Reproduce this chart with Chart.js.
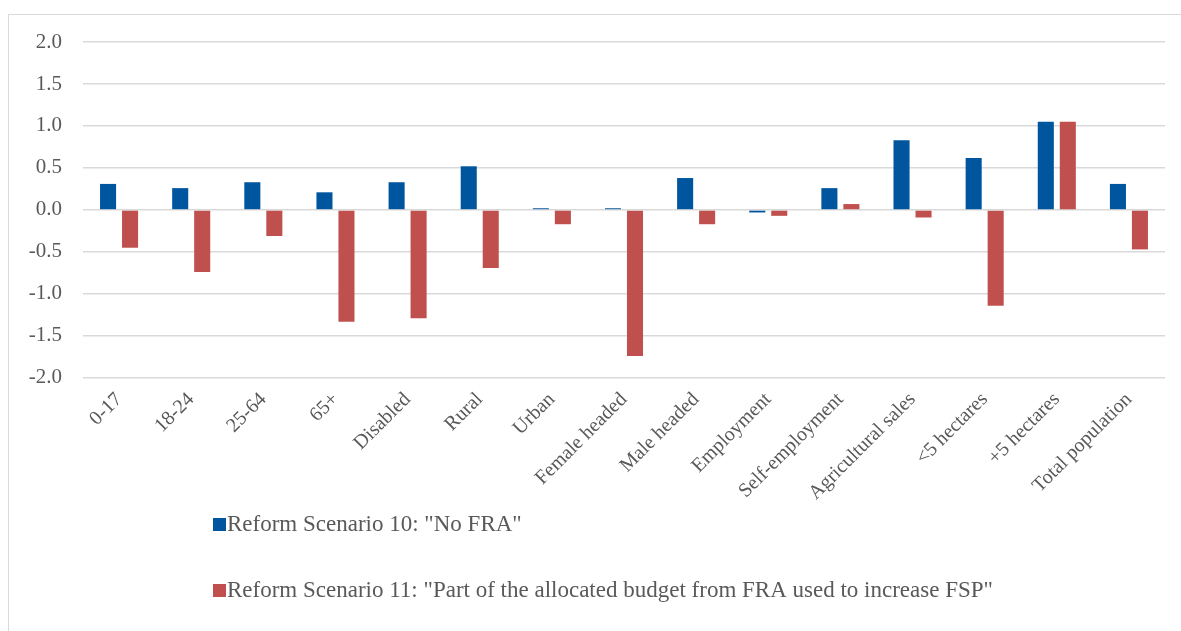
<!DOCTYPE html>
<html>
<head>
<meta charset="utf-8">
<script src="https://cdn.jsdelivr.net/npm/chart.js@4/dist/chart.umd.min.js"></script>
<style>
    html, body { margin: 0; padding: 0; background: #fff; overflow: hidden; }
    #frame {
        position: absolute; left: 8px; top: 14px;
        width: 1200px; height: 650px;
        border: 1px solid #d9d9d9;
    }
    #wrap { position: absolute; left: 0; top: 0; width: 1181px; height: 631px; }
</style>
</head>
<body>
<div id="frame"></div>
<div id="wrap"><canvas id="myChart"></canvas></div>
<script>
// categories + the two reform scenarios
const categories = ['0-17', '18-24', '25-64', '65+', 'Disabled', 'Rural', 'Urban', 'Female headed',
    'Male headed', 'Employment', 'Self-employment', 'Agricultural sales', '<5 hectares', '+5 hectares',
    'Total population'];
const scenario10 = [0.31, 0.26, 0.33, 0.21, 0.33, 0.52, 0.02, 0.02, 0.38, -0.03, 0.26, 0.83, 0.62, 1.05, 0.31];
const scenario11 = [-0.45, -0.74, -0.31, -1.33, -1.29, -0.69, -0.17, -1.74, -0.17, -0.07, 0.07, -0.09, -1.14, 1.05, -0.47];
const seriesNames = ['Reform Scenario 10: "No FRA"',
    'Reform Scenario 11: "Part of the allocated budget from FRA used to increase FSP"'];

const fontFamily = '"Liberation Serif", "DejaVu Serif", serif';
const textColor = '#595959';

// legend stacked one item per row, like the original
const stackedLegend = {
    id: 'stackedLegend',
    afterDraw(chart) {
        const ctx = chart.ctx;
        ctx.save();
        ctx.font = '23px ' + fontFamily;
        ctx.textBaseline = 'alphabetic';
        chart.data.datasets.forEach((ds, i) => {
            const y = 531 + i * 66;
            ctx.fillStyle = ds.backgroundColor;
            ctx.fillRect(213, y - 13, 13, 13);
            ctx.fillStyle = textColor;
            ctx.fillText(ds.label, 227, y);
        });
        ctx.restore();
    }
};

const config = {
    type: 'bar',
    data: {
        labels: categories,
        datasets: [{
            label: seriesNames[0],
            data: scenario10,
            backgroundColor: '#00559f',
            categoryPercentage: 0.61,
            barPercentage: 0.73
        }, {
            label: seriesNames[1],
            data: scenario11,
            backgroundColor: '#c0504d',
            categoryPercentage: 0.61,
            barPercentage: 0.73
        }]
    },
    options: {
        responsive: true,
        maintainAspectRatio: false,
        animation: false,
        layout: {
            padding: { left: 0, right: 16, top: 42, bottom: 124 }
        },
        plugins: {
            legend: { display: false },
            tooltip: { enabled: false }
        },
        scales: {
            x: {
                grid: { display: false },
                border: { display: false },
                ticks: {
                    color: textColor,
                    font: { family: fontFamily, size: 20 },
                    maxRotation: 45,
                    minRotation: 45,
                    padding: 2
                }
            },
            y: {
                min: -2,
                max: 2,
                border: { display: false },
                grid: { color: '#d9d9d9', lineWidth: 1.5, drawTicks: false },
                afterFit: (scale) => { scale.width = 83; },
                ticks: {
                    stepSize: 0.5,
                    color: textColor,
                    font: { family: fontFamily, size: 21 },
                    padding: 21,
                    callback: (v) => v.toFixed(1)
                }
            }
        }
    },
    plugins: [stackedLegend]
};

const myChart = new Chart(document.getElementById('myChart'), config);
</script>
</body>
</html>
